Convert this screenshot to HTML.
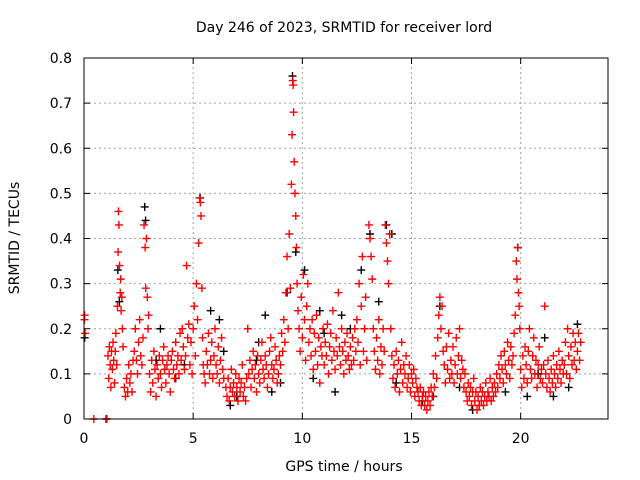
<!DOCTYPE html>
<html><head><meta charset="utf-8"><style>
body{margin:0;background:#fff}
svg{display:block;font-family:"DejaVu Sans","Liberation Sans",sans-serif}
</style></head><body>
<svg id="chart" width="640" height="480" viewBox="0 0 640 480">
<text x="344" y="32" font-size="14" text-anchor="middle">Day 246 of 2023, SRMTID for receiver lord</text>
<text transform="translate(19,238) rotate(-90)" font-size="14" text-anchor="middle">SRMTID / TECUs</text>
<text x="344" y="471" font-size="14" text-anchor="middle">GPS time / hours</text>
<g id="grid"></g><g id="ticks"></g><g id="black"></g><g id="red"></g>
<rect x="84" y="58" width="524" height="361" fill="none" stroke="#000" stroke-width="1"/>
</svg>
<script>
const xTicks=[0,5,10,15,20];
const yTicks=[0,0.1,0.2,0.3,0.4,0.5,0.6,0.7,0.8];
const yTickLabels=["0","0.1","0.2","0.3","0.4","0.5","0.6","0.7","0.8"];
const redT=[0.02,0.03,0.05,0.45,1.0,1.05,1.1,1.13,1.16,1.2,1.23,1.26,1.3,1.33,1.36,1.4,1.43,1.46,1.5,1.53,1.56,1.58,1.6,1.63,1.66,1.68,1.7,1.73,1.76,1.79,1.85,1.9,1.95,2.0,2.05,2.1,2.15,2.2,2.25,2.3,2.35,2.4,2.45,2.5,2.55,2.6,2.65,2.7,2.75,2.8,2.83,2.86,2.9,2.93,2.96,3.0,3.05,3.1,3.15,3.2,3.25,3.3,3.35,3.4,3.45,3.5,3.55,3.6,3.65,3.7,3.75,3.8,3.85,3.9,3.95,4.0,4.05,4.1,4.15,4.2,4.25,4.3,4.35,4.4,4.45,4.5,4.55,4.6,4.65,4.7,4.75,4.8,4.85,4.9,4.95,5.0,5.05,5.1,5.15,5.2,5.25,5.3,5.33,5.36,5.4,5.43,5.46,5.5,5.55,5.6,5.65,5.7,5.75,5.8,5.85,5.9,5.95,6.0,6.05,6.1,6.15,6.2,6.25,6.3,6.35,6.4,6.5,6.55,6.6,6.65,6.7,6.75,6.8,6.85,6.9,6.95,7.0,7.05,7.1,7.15,7.2,7.25,7.3,7.35,7.4,7.45,7.5,7.55,7.6,7.65,7.7,7.75,7.8,7.85,7.9,7.95,8.0,8.05,8.1,8.15,8.2,8.25,8.3,8.35,8.4,8.45,8.5,8.55,8.6,8.65,8.7,8.75,8.8,8.85,8.9,8.95,9.0,9.05,9.1,9.15,9.2,9.25,9.3,9.35,9.4,9.45,9.5,9.53,9.56,9.58,9.6,9.63,9.66,9.7,9.73,9.76,9.8,9.85,9.9,9.95,10.0,10.05,10.1,10.15,10.2,10.25,10.3,10.35,10.4,10.45,10.5,10.55,10.6,10.65,10.7,10.75,10.8,10.85,10.9,10.95,11.0,11.05,11.1,11.15,11.2,11.25,11.3,11.35,11.4,11.45,11.5,11.55,11.6,11.65,11.7,11.75,11.8,11.85,11.9,11.95,12.0,12.05,12.1,12.15,12.2,12.25,12.3,12.35,12.4,12.45,12.5,12.55,12.6,12.65,12.7,12.75,12.8,12.85,12.9,12.95,13.05,13.1,13.15,13.2,13.25,13.3,13.35,13.4,13.45,13.5,13.55,13.6,13.65,13.7,13.75,13.8,13.85,13.9,13.95,14.0,14.05,14.1,14.15,14.2,14.25,14.3,14.35,14.4,14.45,14.5,14.55,14.6,14.65,14.7,14.75,14.8,14.85,14.9,14.95,15.0,15.05,15.1,15.15,15.2,15.25,15.3,15.35,15.4,15.45,15.5,15.55,15.6,15.65,15.7,15.75,15.8,15.85,15.9,15.95,16.0,16.05,16.1,16.15,16.2,16.25,16.3,16.35,16.4,16.45,16.5,16.55,16.6,16.65,16.7,16.75,16.8,16.85,16.9,16.95,17.0,17.05,17.1,17.15,17.2,17.25,17.3,17.35,17.4,17.45,17.5,17.55,17.6,17.65,17.7,17.75,17.8,17.85,17.9,17.95,18.0,18.05,18.1,18.15,18.2,18.25,18.3,18.35,18.4,18.45,18.5,18.55,18.6,18.65,18.7,18.75,18.8,18.85,18.9,18.95,19.0,19.05,19.1,19.15,19.2,19.25,19.3,19.35,19.4,19.45,19.5,19.55,19.6,19.65,19.7,19.75,19.8,19.83,19.86,19.9,19.93,19.96,20.0,20.05,20.1,20.15,20.2,20.25,20.3,20.35,20.4,20.45,20.5,20.55,20.6,20.65,20.7,20.75,20.8,20.85,20.9,20.95,21.0,21.05,21.1,21.15,21.2,21.25,21.3,21.35,21.4,21.45,21.5,21.55,21.6,21.65,21.7,21.75,21.8,21.85,21.9,21.95,22.0,22.05,22.1,22.15,22.2,22.25,22.3,22.35,22.4,22.45,22.5,22.55,22.6,22.65,22.7,22.75];
const redV=[.22,.23,.19,0,0,0,.14,.09,.16,.12,.07,.15,.11,.17,.13,.08,.15,.19,.12,.25,.37,.46,.43,.34,.28,.31,.24,.27,.2,.16,.07,.05,.09,.06,.12,.08,.1,.06,.13,.15,.2,.13,.1,.17,.22,.14,.12,.18,.43,.38,.29,.4,.27,.2,.23,.1,.06,.13,.08,.15,.11,.05,.12,.09,.14,.1,.07,.13,.16,.11,.08,.12,.14,.1,.06,.13,.15,.11,.09,.17,.12,.14,.1,.19,.13,.2,.16,.11,.14,.34,.18,.21,.12,.17,.1,.2,.25,.14,.3,.22,.39,.49,.48,.45,.29,.18,.12,.1,.08,.15,.12,.19,.1,.13,.17,.09,.14,.2,.12,.1,.16,.08,.13,.18,.11,.09,.07,.05,.09,.04,.07,.11,.06,.08,.05,.1,.07,.04,.09,.06,.08,.12,.05,.07,.04,.09,.2,.1,.13,.07,.11,.15,.09,.12,.06,.14,.1,.08,.13,.17,.11,.09,.14,.12,.07,.1,.15,.18,.12,.09,.11,.16,.13,.08,.1,.14,.12,.19,.15,.22,.17,.28,.36,.2,.41,.29,.52,.63,.75,.74,.68,.57,.5,.45,.38,.3,.24,.2,.15,.27,.18,.32,.22,.13,.25,.3,.17,.2,.14,.22,.11,.19,.15,.23,.12,.18,.08,.16,.14,.2,.12,.17,.14,.21,.1,.16,.19,.13,.24,.15,.11,.18,.14,.28,.16,.12,.2,.15,.1,.17,.13,.19,.14,.11,.16,.12,.18,.13,.2,.15,.22,.17,.3,.12,.25,.36,.15,.2,.27,.13,.43,.4,.36,.31,.2,.15,.11,.18,.13,.22,.1,.16,.12,.2,.15,.43,.39,.35,.3,.41,.2,.14,.09,.12,.07,.15,.1,.13,.06,.11,.17,.08,.12,.1,.14,.07,.09,.12,.06,.1,.08,.11,.05,.09,.07,.06,.04,.07,.03,.05,.06,.03,.05,.02,.04,.06,.03,.07,.05,.1,.07,.14,.09,.18,.23,.27,.2,.25,.15,.12,.08,.16,.11,.19,.09,.13,.1,.16,.08,.12,.18,.1,.14,.2,.09,.13,.11,.07,.1,.06,.04,.08,.05,.07,.03,.06,.09,.04,.06,.02,.05,.03,.07,.04,.06,.03,.05,.08,.04,.06,.05,.09,.04,.07,.05,.08,.06,.1,.07,.12,.09,.14,.11,.08,.15,.12,.1,.17,.13,.09,.16,.12,.14,.19,.23,.35,.31,.38,.28,.25,.2,.11,.07,.14,.09,.16,.12,.08,.15,.2,.11,.09,.14,.18,.1,.13,.07,.12,.16,.09,.11,.08,.12,.25,.1,.07,.13,.09,.06,.11,.08,.14,.1,.07,.12,.09,.15,.11,.08,.13,.1,.12,.17,.1,.2,.14,.09,.16,.12,.19,.13,.17,.11,.15,.19,.13,.17];
const blackT=[0.03,1.55,1.62,2.78,2.82,3.3,3.5,4.2,4.6,5.32,5.8,6.2,6.4,6.7,7.0,7.9,8.0,8.3,8.6,9.0,9.3,9.55,9.7,10.1,10.5,10.8,11.0,11.5,11.8,12.2,12.7,13.1,13.5,13.85,14.1,14.3,15.5,16.0,16.3,17.2,17.8,18.1,19.3,19.87,20.3,20.8,21.1,21.5,22.2,22.6];
const blackV=[.18,.33,.26,.47,.44,.13,.2,.09,.12,.49,.24,.22,.15,.03,.05,.13,.17,.23,.06,.08,.28,.76,.37,.33,.09,.24,.19,.06,.23,.2,.33,.41,.26,.43,.41,.08,.04,.05,.25,.07,.02,.03,.06,.38,.05,.1,.18,.05,.07,.21];

const X0=84,X1=608,Y0=419,Y1=58;
const xs=t=>X0+t/24*(X1-X0);
const ys=v=>Y0-v/0.8*(Y0-Y1);
const NS="http://www.w3.org/2000/svg";
function mk(tag,attrs,parent){const e=document.createElementNS(NS,tag);for(const k in attrs)e.setAttribute(k,attrs[k]);parent.appendChild(e);return e;}
const grid=document.getElementById('grid'),ticks=document.getElementById('ticks');
xTicks.forEach(t=>{const x=xs(t);
 if(t>0){const g=mk('line',{x1:x,y1:Y0,x2:x,y2:Y1,stroke:'#a0a0a0','stroke-dasharray':'2,3'},grid);
 
 }
 mk('line',{x1:x,y1:Y0,x2:x,y2:Y0-6,stroke:'#000'},ticks);mk('line',{x1:x,y1:Y1,x2:x,y2:Y1+6,stroke:'#000'},ticks);
 const l=mk('text',{x:x,y:Y0+24,'font-size':14,'text-anchor':'middle'},ticks);l.textContent=t;
 
 });
yTicks.forEach((v,i)=>{const y=ys(v);
 if(v>0&&v<0.8){const g=mk('line',{x1:X0,y1:y,x2:X1,y2:y,stroke:'#a0a0a0','stroke-dasharray':'2,3'},grid);
 
 }
 mk('line',{x1:X0,y1:y,x2:X0+6,y2:y,stroke:'#000'},ticks);mk('line',{x1:X1,y1:y,x2:X1-6,y2:y,stroke:'#000'},ticks);
 const l=mk('text',{x:72,y:y+5,'font-size':14,'text-anchor':'end'},ticks);l.textContent=yTickLabels[i];
 
 });
function plus(g,t,v,c,name){const x=xs(t),y=ys(v);
 const p=mk('path',{d:`M${x-4},${y}h8M${x},${y-4}v8`,stroke:c,'stroke-width':1.4,fill:'none'},g);
 
 }
const gb=document.getElementById('black'),gr=document.getElementById('red');
blackT.forEach((t,i)=>plus(gb,t,blackV[i],'#000','black-point'));
redT.forEach((t,i)=>plus(gr,t,redV[i],'#ff0000','red-point'));
</script>
</body></html>
